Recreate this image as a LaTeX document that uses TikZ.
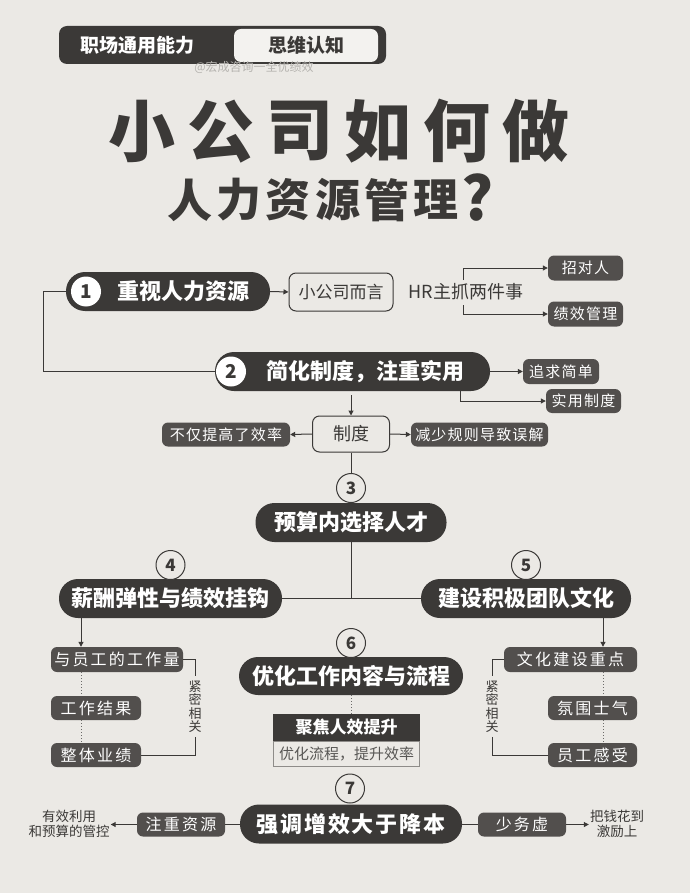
\documentclass[tikz,border=0pt]{standalone}
\usepackage{fontspec}
\setmainfont{Noto Sans CJK SC}
\newfontfamily\blk{Noto Sans CJK SC Black}
\usetikzlibrary{arrows.meta}
\definecolor{bg}{HTML}{EBE9E5}
\definecolor{dk}{HTML}{3B3937}
\definecolor{gy}{HTML}{524F4D}
\definecolor{wm}{HTML}{B5B3AF}
\definecolor{lt}{HTML}{F3F2EF}
\definecolor{bd}{HTML}{8E8C89}
\begin{document}
\begin{tikzpicture}[x=1pt,y=-1pt,
  pill/.style={fill=dk, rounded corners=19pt, text=white, inner sep=0, minimum height=39,
    font=\bfseries\fontsize{22}{22}\selectfont},
  gbox/.style={fill=gy, rounded corners=6pt, text=white, inner sep=0, minimum height=25,
    font=\fontsize{15}{15}\selectfont\addfontfeature{LetterSpace=8}},
  gboxl/.style={gbox, font=\fontsize{16}{16}\selectfont\addfontfeature{LetterSpace=14}},
  obox/.style={draw=dk, line width=1pt, fill=bg, rounded corners=7pt, text=dk, inner sep=0},
  num/.style={circle, draw=dk, line width=1pt, fill=bg, minimum size=29, inner sep=0, text=dk,
    font=\bfseries\fontsize{17}{17}\selectfont},
  wnum/.style={circle, fill=white, minimum size=30, inner sep=0, text=dk,
    font=\bfseries\fontsize{19}{19}\selectfont},
  ptext/.style={text=white, inner sep=0, font=\bfseries\fontsize{22}{22}\selectfont},
  vtext/.style={text=dk, align=center, inner xsep=0, inner ysep=4, font=\fontsize{13}{13.5}\selectfont},
  ttl/.style={text=dk, inner sep=0},
  ln/.style={draw=dk, line width=1pt},
  arr/.style={ln, -{Triangle[length=5pt,width=5pt]}},
  dotl/.style={draw=dk!75, line width=0.8pt, dash pattern=on 1pt off 2pt},
]
\useasboundingbox (0,0) rectangle (690,893);
\fill[bg] (0,0) rectangle (690,893);

% header
\node[fill=dk, rounded corners=8pt, minimum width=327, minimum height=38, inner sep=0] (hd) at (222.5,45) {};
\node[fill=lt, rounded corners=7pt, minimum width=144, minimum height=33, inner sep=0] (hw) at (306,45.5) {};
\node[text=white, inner sep=0, font=\bfseries\fontsize{19}{19}\selectfont] (hdt) at (137,45) {职场通用能力};
\node[text=dk, inner sep=0, font=\bfseries\fontsize{19}{19}\selectfont] (hwt) at (306,45) {思维认知};
\node[text=wm, inner sep=0, font=\fontsize{12}{12}\selectfont] (wmk) at (254,67.5) {@宏成咨询一全优绩效};

% title
\foreach \c [count=\i from 0] in {小,公,司,如,何,做}
  \node[ttl, font=\blk\fontsize{67}{67}\selectfont] (ta\i) at ({142+\i*78.8},131.5) {\c};
\foreach \c [count=\i from 0] in {人,力,资,源,管,理}
  \node[ttl, font=\blk\fontsize{45}{45}\selectfont] (tb\i) at ({190+\i*49.2},200) {\c};
\node[ttl, font=\bfseries\fontsize{60}{60}\selectfont] (tq) at (478,198) {?};

% section 1
\node[pill, minimum width=204] (n1) at (168,291.5) {};
\node[wnum] (c1) at (86,291.5) {1};
\node[ptext] (n1t) at (183,291.5) {重视人力资源};
\node[obox, minimum width=104, minimum height=38, font=\fontsize{17}{17}\selectfont] (xg) at (341,292) {小公司而言};
\node[text=dk, inner sep=0, font=\fontsize{18}{18}\selectfont] (hr) at (466,292) {HR主抓两件事};
\node[gbox, minimum width=75] (zdr) at (585.5,268) {招对人};
\node[gbox, minimum width=75] (jx) at (585.5,314) {绩效管理};
\draw[arr] (n1.east) -- (xg.west);
\coordinate (b1) at (463,280);
\coordinate (b2) at (463,305);
\draw[arr] (b1) |- (zdr.west);
\draw[arr] (b2) |- (jx.west);

% section 2
\node[pill, minimum width=275] (n2) at (352.5,371.5) {};
\node[wnum] (c2) at (231,371.5) {2};
\node[ptext] (n2t) at (365,371.5) {简化制度，注重实用};
\coordinate (lc) at (43,291.5);
\draw[ln] (c1.west) -- (lc) |- (n2.west);
\node[gbox, minimum width=76] (zq) at (561,371.5) {追求简单};
\node[gbox, minimum width=75, minimum height=24] (sy) at (583.5,401) {实用制度};
\draw[arr] (n2.east) -- (zq.west);
\draw[arr] ([xshift=107.5]n2.south) |- (sy.west);
\node[obox, minimum width=77, minimum height=36, font=\fontsize{18}{18}\selectfont] (zd) at (351,434) {制度};
\draw[arr] ([yshift=-4]zd.north |- n2.south) -- (zd.north);
\node[gbox, minimum width=128, minimum height=24] (bq) at (226,434.5) {不仅提高了效率};
\node[gbox, minimum width=137, minimum height=24] (js) at (479.5,434.5) {减少规则导致误解};
\draw[arr] (zd.west) -- (bq.east);
\draw[arr] (zd.east) -- (js.west);

% section 3
\node[pill, minimum width=191] (n3) at (351,522.5) {预算内选择人才};
\node[num] (c3) at (351,488) {3};
\draw[ln] (zd.south) -- (c3.north);
\node[pill, minimum width=223] (n4) at (170.5,598.5) {薪酬弹性与绩效挂钩};
\node[pill, minimum width=210] (n5) at (526,598.5) {建设积极团队文化};
\node[num] (c4) at (170.5,565) {4};
\node[num] (c5) at (526,565) {5};
\draw[ln] (n3.south) -- (n3.south |- n4.east);
\draw[ln] (n4.east) -- (n5.west);

% section 4 (left)
\node[gboxl, minimum width=132] (a1) at (117,659.5) {与员工的工作量};
\node[gboxl, minimum width=90, minimum height=24] (a2) at (96,708) {工作结果};
\node[gboxl, minimum width=90, minimum height=24] (a3) at (96,755) {整体业绩};
\coordinate (la) at (81,600);
\draw[arr] (n4.south -| la) -- (a1.north -| la);
\draw[dotl] (a1.south -| la) -- (a2.north -| la);
\draw[dotl] (a2.south -| la) -- (a3.north -| la);
\node[vtext] (ltx) at (195,706.5) {紧\\密\\相\\关};
\draw[ln] (a1.east) -| (ltx.north);
\draw[ln] (ltx.south) |- (a3.east);

% section 5 (right)
\node[gboxl, minimum width=133] (r1) at (570.5,659.5) {文化建设重点};
\node[gboxl, minimum width=89, minimum height=24] (r2) at (592.5,708) {氛围士气};
\node[gboxl, minimum width=89, minimum height=24] (r3) at (592.5,755) {员工感受};
\coordinate (ra) at (603,600);
\draw[arr] (n5.south -| ra) -- (r1.north -| ra);
\draw[dotl] (r1.south -| ra) -- (r2.north -| ra);
\draw[dotl] (r2.south -| ra) -- (r3.north -| ra);
\node[vtext] (rtx) at (492,706.5) {紧\\密\\相\\关};
\draw[ln] (r1.west) -| (rtx.north);
\draw[ln] (rtx.south) |- (r3.west);

% section 6
\node[pill, minimum width=224, minimum height=38] (n6) at (351,676) {优化工作内容与流程};
\node[num] (c6) at (351,643) {6};
\node[fill=dk, minimum width=147, minimum height=27, inner sep=0, text=white,
  font=\bfseries\fontsize{17}{17}\selectfont] (jj) at (346.5,727.5) {聚焦人效提升};
\node[draw=bd, line width=1pt, fill=bg, minimum width=146, minimum height=25, inner sep=0, text=dk!85,
  font=\fontsize{15}{15}\selectfont] (yh) at (346.5,753.5) {优化流程，提升效率};
\draw[dotl] (n6.south) -- (n6.south |- jj.north);

% section 7
\node[pill, minimum width=222, font=\bfseries\fontsize{22}{22}\selectfont\addfontfeature{LetterSpace=8}] (n7) at (351,824) {强调增效大于降本};
\node[num] (c7) at (350,788.5) {7};
\node[gboxl, minimum width=88, minimum height=24] (zy) at (181,824.5) {注重资源};
\node[gboxl, minimum width=88, minimum height=24] (sw) at (522,824.5) {少务虚};
\node[text=dk, align=center, inner sep=1, font=\fontsize{13.5}{15}\selectfont] (lft) at (69,824) {有效利用\\和预算的管控};
\node[text=dk, align=center, inner sep=1, font=\fontsize{13.5}{15}\selectfont] (rgt) at (617,824) {把钱花到\\激励上};
\draw[ln] (n7.west) -- (n7.west -| zy.east);
\draw[arr] (zy.west) -- (zy.west -| lft.east);
\draw[ln] (n7.east) -- (n7.east -| sw.west);
\draw[arr] (sw.east) -- (sw.east -| rgt.west);
\end{tikzpicture}
\end{document}
